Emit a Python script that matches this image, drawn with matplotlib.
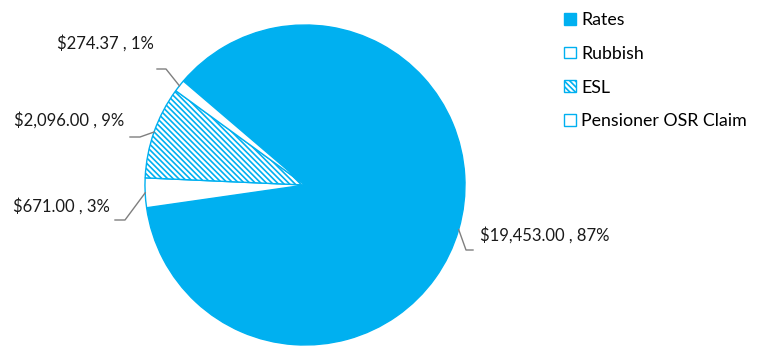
import matplotlib.pyplot as plt
import numpy as np

categories = ["Rates", "Rubbish", "ESL", "Pensioner OSR Claim"]
values = [19453.00, 671.00, 2096.00, 274.37]
pct_labels = [87, 3, 9, 1]

BLUE = "#00B0F0"
W, H = 757, 346

plt.rcParams['font.family'] = ['Lato', 'DejaVu Sans']
plt.rcParams['hatch.linewidth'] = 1.2

fig = plt.figure(figsize=(W / 100, H / 100), dpi=100)
ax = fig.add_axes([0, 0, 1, 1])

def up(y):
  # pixel row (from top) -> data y
  return H - y

cx, cy, r = 305, up(185), 160
wedges, _ = ax.pie(values, startangle=139.5, counterclock=False,
                   center=(cx, cy), radius=r, frame=True,
                   colors=[BLUE, "white", "white", "white"],
                   wedgeprops=dict(edgecolor=BLUE, linewidth=1))
ax.set_xlim(0, W)
ax.set_ylim(0, H)
ax.set_aspect('equal')
ax.axis('off')
wedges[2].set_hatch('\\\\\\\\\\\\')

# label layout: (elbow x, elbow y, end x, text x, text y, ha)
layout = [
  (466, 250, 473, 480, 235, 'left'),
  (125, 220, 115, 110, 206, 'right'),
  (140, 137, 130, 124, 120, 'right'),
  (166, 69, 157, 154, 43, 'right'),
]

for w, v, p, lay in zip(wedges, values, pct_labels, layout):
  ex, ey, endx, tx, ty, ha = lay
  ang = np.deg2rad((w.theta1 + w.theta2) / 2)
  sx = cx + r * np.cos(ang)
  sy = cy + r * np.sin(ang)
  ax.plot([sx, ex, endx], [sy, up(ey), up(ey)], color="#7f7f7f", lw=1)
  ax.text(tx, up(ty), f"${v:,.2f} , {p}%", ha=ha, va='center',
          fontsize=12, color="#1a1a1a")

leg = ax.legend(wedges, categories, loc='upper left',
                bbox_to_anchor=(548 / W, 1 + 4 / H), frameon=False,
                fontsize=12.8, handlelength=0.65, handleheight=0.65,
                handletextpad=0.3, labelspacing=1.0)

fig.savefig("out.png", dpi=100)
